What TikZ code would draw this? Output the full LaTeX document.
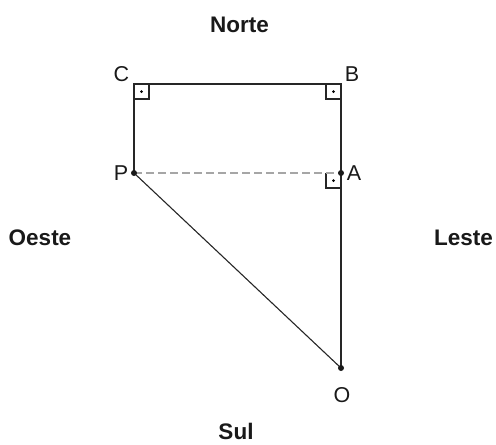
\documentclass[tikz,border=0pt]{standalone}
\usepackage{fontspec}
\setmainfont{Liberation Sans}
\begin{document}
\begin{tikzpicture}[x=1pt,y=-1pt,
  lbl/.style={font=\fontsize{21.5}{25}\selectfont, inner sep=0pt, text=black!90},
  dir/.style={font=\bfseries\fontsize{22.5}{26}\selectfont, inner sep=0pt, text=black!90},
  seg/.style={line width=1.3pt, draw=black!85},
  rbox/.style={line width=1.1pt, draw=black!85},
  pt/.style={circle, fill=black!90, inner sep=0pt, minimum size=6pt}]
\useasboundingbox (0,0) rectangle (496,445);
\coordinate (C) at (134,84);
\coordinate (B) at (341,84);
\coordinate (P) at (134,173);
\coordinate (A) at (341,173);
\coordinate (O) at (341,368);
% right-angle marks
\draw[rbox] (149,84) -- (149,99) -- (134,99);
\fill (141.5,91.5) circle (1.5pt);
\draw[rbox] (326,84) -- (326,99) -- (341,99);
\fill (333.5,91.5) circle (1.5pt);
\draw[rbox] (326,173) -- (326,188) -- (341,188);
\fill (333.5,180.5) circle (1.5pt);
% segments
\draw[seg] (P) -- (C) -- (B) -- (O);
\draw[seg, line width=1.1pt] (P) -- (O);
\draw[gray!70, line width=1.1pt, dash pattern=on 8pt off 4pt] (P) -- (A);
\node[pt] (nP) at (P) {};
\node[pt] (nA) at (A) {};
\node[pt] (nO) at (O) {};
% labels
\node[lbl] (lC) at (121.5,74) {C};
\node[lbl] (lB) at (352,74) {B};
\node[lbl] (lP) at (121,173) {P};
\node[lbl] (lA) at (354,173) {A};
\node[lbl] (lO) at (342,395) {O};
\node[dir] (N) at (239.5,25) {Norte};
\node[dir] (W) at (40,238) {Oeste};
\node[dir] (E) at (463.5,238) {Leste};
\node[dir] (S) at (236,431) {Sul};
\end{tikzpicture}
\end{document}
